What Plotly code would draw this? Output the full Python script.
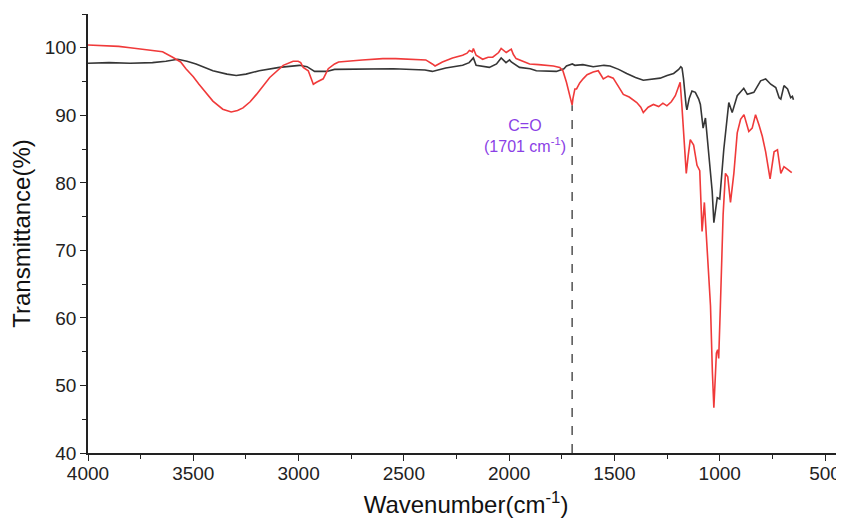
import plotly.graph_objects as go

# FTIR spectra (wavenumber in cm-1, transmittance in %)
wn_black = [4000, 3900, 3800, 3694, 3630, 3574, 3530, 3487, 3407, 3340, 3296, 3250, 3187, 3091,
            2996, 2960, 2924, 2867, 2829, 2700, 2550, 2400, 2365, 2301, 2221, 2190, 2181, 2170,
            2157, 2126, 2094, 2060, 2038, 2015, 1998, 1990, 1951, 1900, 1871, 1776, 1740, 1728,
            1700, 1688, 1650, 1601, 1550, 1521, 1480, 1442, 1400, 1363, 1320, 1283, 1250, 1219,
            1195, 1185, 1179, 1172, 1160, 1156, 1145, 1132, 1116, 1100, 1092, 1079, 1068, 1052,
            1036, 1028, 1018, 1012, 1000, 981, 957, 941, 917, 886, 869, 838, 806, 782, 758, 734,
            718, 710, 695, 678, 663, 655, 650]
t_black = [97.7, 97.8, 97.7, 97.8, 98.0, 98.3, 98.0, 97.6, 96.6, 96.1, 95.9, 96.1, 96.6, 97.1,
           97.4, 97.2, 96.5, 96.5, 96.8, 96.8, 96.9, 96.7, 96.5, 97.0, 97.4, 97.8, 98.1, 98.5,
           97.4, 97.3, 97.1, 97.6, 98.5, 97.8, 98.2, 97.9, 97.1, 96.9, 96.6, 96.5, 96.9, 97.3,
           97.6, 97.4, 97.5, 97.2, 97.4, 97.3, 96.8, 96.2, 95.6, 95.2, 95.4, 95.5, 95.9, 96.2,
           96.8, 97.2, 97.0, 95.4, 91.5, 90.8, 92.5, 93.6, 93.4, 92.4, 91.6, 88.1, 89.6, 84.4,
           78.8, 74.1, 77.0, 77.8, 77.6, 84.9, 91.9, 90.4, 92.9, 94.0, 93.1, 93.4, 95.1, 95.4,
           94.6, 94.1, 92.6, 92.4, 94.4, 93.9, 92.6, 92.8, 92.3]

wn_red = [4000, 3900, 3854, 3800, 3740, 3680, 3646, 3598, 3560, 3535, 3500, 3473, 3440, 3407,
          3360, 3320, 3290, 3264, 3230, 3200, 3137, 3100, 3073, 3026, 3002, 2990, 2978, 2954,
          2940, 2930, 2915, 2883, 2870, 2859, 2829, 2810, 2698, 2600, 2539, 2450, 2396, 2365,
          2352, 2317, 2269, 2221, 2200, 2189, 2175, 2170, 2162, 2157, 2126, 2100, 2078, 2050,
          2038, 2025, 2014, 1990, 1980, 1967, 1930, 1903, 1860, 1823, 1790, 1760, 1745, 1728,
          1712, 1704, 1701, 1697, 1688, 1680, 1665, 1649, 1630, 1601, 1577, 1565, 1553, 1530,
          1506, 1480, 1458, 1430, 1394, 1375, 1363, 1340, 1315, 1290, 1270, 1251, 1230, 1211,
          1195, 1188, 1180, 1172, 1159, 1150, 1140, 1124, 1108, 1095, 1084, 1073, 1060, 1044,
          1035, 1028, 1020, 1016, 1010, 1005, 997, 990, 984, 973, 962, 949, 933, 917, 901, 885,
          862, 846, 830, 814, 798, 782, 761, 742, 726, 710, 695, 678, 658]
t_red = [100.4, 100.3, 100.2, 100.0, 99.8, 99.6, 99.4, 98.6, 97.9, 96.9, 95.7, 94.6, 93.3, 92.1,
         90.9, 90.5, 90.7, 91.1, 92.0, 93.1, 95.6, 96.7, 97.4, 98.0, 98.0, 97.8, 97.1, 96.6,
         95.5, 94.6, 94.9, 95.4, 96.2, 96.9, 97.6, 97.9, 98.2, 98.4, 98.4, 98.3, 98.2, 97.6,
         97.3, 97.9, 98.5, 98.9, 99.2, 99.6, 99.4, 99.9, 99.2, 98.9, 98.3, 98.6, 98.6, 99.3,
         99.9, 99.5, 99.3, 99.8, 99.0, 98.4, 97.9, 97.6, 97.5, 97.4, 97.3, 97.1, 96.6, 94.9,
         92.8, 91.9, 91.5, 92.5, 93.9, 93.9, 94.8, 95.4, 96.0, 96.4, 96.6, 96.0, 95.4, 95.8,
         95.5, 94.2, 93.1, 92.7, 91.9, 91.2, 90.4, 91.2, 91.6, 91.3, 91.8, 91.4, 92.0, 92.9,
         94.3, 94.9, 91.5, 87.9, 81.4, 84.0, 86.4, 85.6, 82.6, 81.8, 72.8, 77.1, 70.8, 61.8,
         52.0, 46.7, 52.0, 54.8, 55.3, 54.0, 61.8, 69.0, 75.3, 81.4, 80.9, 77.1, 81.4, 87.4,
         89.4, 90.1, 87.6, 88.1, 90.1, 88.6, 86.9, 84.6, 80.6, 84.6, 84.9, 81.4, 82.4, 82.0, 81.5]

peak_wn = 1701
peak_t = 91.5
peak_label = "C=O<br>(1701 cm<sup>-1</sup>)"

x_ticks = [4000, 3500, 3000, 2500, 2000, 1500, 1000, 500]
y_ticks = [40, 50, 60, 70, 80, 90, 100]

FONT = "Arial, Liberation Sans, sans-serif"

fig = go.Figure()
fig.add_trace(go.Scatter(x=wn_black, y=t_black, mode="lines",
                         line=dict(color="#363636", width=1.6), showlegend=False))
fig.add_trace(go.Scatter(x=wn_red, y=t_red, mode="lines",
                         line=dict(color="#f03a3a", width=1.6), showlegend=False))
# dashed marker line at the carbonyl band
fig.add_trace(go.Scatter(x=[peak_wn, peak_wn], y=[40, peak_t], mode="lines",
                         line=dict(color="#444444", width=1.4, dash="dash"), showlegend=False))

fig.add_annotation(x=peak_wn, y=peak_t - 1.4, xref="x", yref="y", text=peak_label,
                   showarrow=False, xanchor="right", yanchor="top", xshift=-4,
                   font=dict(family=FONT, size=16, color="#8b3fe6"), align="center")

axis_common = dict(showline=True, linecolor="#222", linewidth=1.5, ticks="outside",
                   ticklen=6, tickwidth=1.3, tickcolor="#222", showgrid=False, zeroline=False,
                   automargin=False, tickfont=dict(family=FONT, size=19, color="#222"))

fig.update_xaxes(range=[4000, 410], tickvals=x_ticks, ticklabelstandoff=-4,
                 minor=dict(ticks="outside", ticklen=4, tickwidth=1.2, tickcolor="#222", dtick=250),
                 title=dict(text="Wavenumber(cm<sup>-1</sup>)", standoff=14,
                            font=dict(family=FONT, size=24, color="#111")),
                 **axis_common)
fig.update_yaxes(range=[40, 105], tickvals=y_ticks,
                 minor=dict(ticks="outside", ticklen=4, tickwidth=1.2, tickcolor="#222", dtick=5),
                 title=dict(text="Transmittance(%)", standoff=10,
                            font=dict(family=FONT, size=24, color="#111")),
                 **axis_common)

# page body adds an 8px offset, so the figure is a little smaller than the window
fig.update_layout(width=836, height=519, margin=dict(l=80, r=0, t=6, b=74),
                  plot_bgcolor="white", paper_bgcolor="white")

fig.write_html("out.html")
